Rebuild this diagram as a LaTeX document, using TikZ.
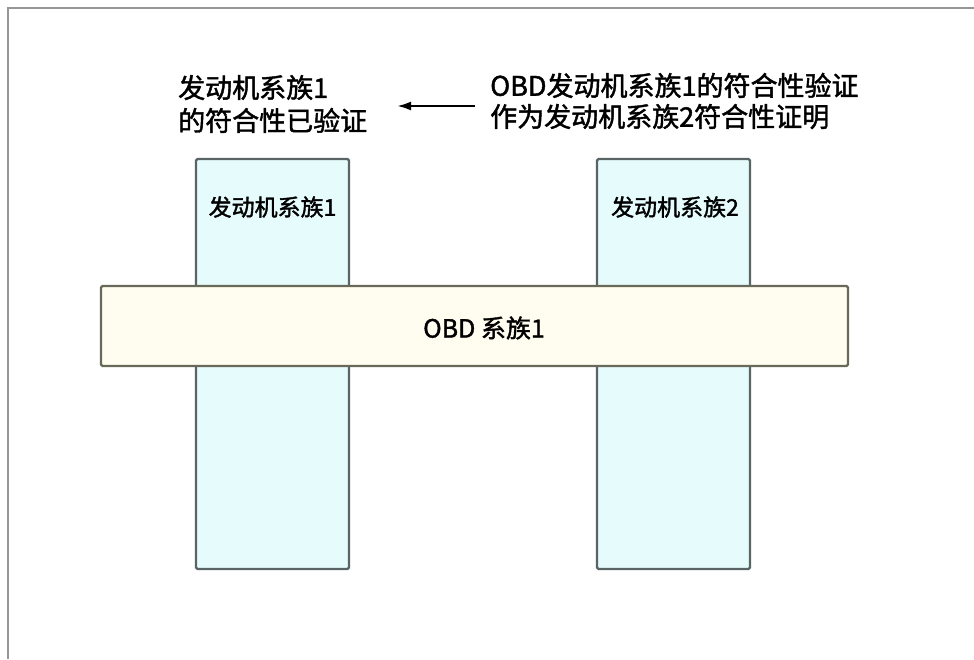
\documentclass[tikz,border=0pt]{standalone}
\usepackage{fontspec}
\setmainfont{Noto Sans CJK SC}[BoldFont={Noto Sans CJK SC},BoldFeatures={FakeBold=1.6}]
\usetikzlibrary{arrows.meta}
\definecolor{framecol}{RGB}{150,150,150}
\definecolor{colfill}{RGB}{230,251,252}
\definecolor{colborder}{RGB}{90,100,100}
\definecolor{barfill}{RGB}{255,253,239}
\definecolor{barborder}{RGB}{105,105,90}
\begin{document}
\begin{tikzpicture}[x=1pt,y=-1pt,
  column/.style={draw=colborder, fill=colfill, line width=2.4pt, rounded corners=1.5pt,
    minimum width=153pt, minimum height=410pt, inner sep=0pt},
  bar/.style={draw=barborder, fill=barfill, line width=2.4pt, rounded corners=1.5pt,
    minimum width=747pt, minimum height=80pt, inner sep=0pt},
  boxlabel/.style={inner sep=0pt, font=\fontsize{23}{28}\selectfont\bfseries},
  toptext/.style={inner sep=0pt, align=left, anchor=west}
]
\useasboundingbox (0,0) rectangle (974,659);
\draw[framecol, line width=2.2pt] (974,8) -- (8,8) -- (8,659);

\node[column] (col1) at (272.5,364) {};
\node[column] (col2) at (673.5,364) {};
\node[bar] (bar) at (474.5,326) {};

\node[boxlabel] (lab1) at (272.5,207) {发动机系族1};
\node[boxlabel] (lab2) at (675,207) {发动机系族2};
\node[inner sep=0pt, font=\fontsize{25}{30}\selectfont\bfseries] (barlab) at (484,328) {OBD 系族1};

\node[toptext, font=\fontsize{27}{33}\selectfont\bfseries] (ltext) at (178,104) {发动机系族1\\的符合性已验证};
\node[toptext, font=\fontsize{27}{31}\selectfont\bfseries] (rtext) at (490,101) {OBD发动机系族1的符合性验证\\作为发动机系族2符合性证明};

\coordinate (atail) at (475,106);
\coordinate (ahead) at (397,106);
\draw[line width=2.4pt, -{Latex[length=14pt,width=9pt]}] (atail) -- (ahead);
\end{tikzpicture}
\end{document}
